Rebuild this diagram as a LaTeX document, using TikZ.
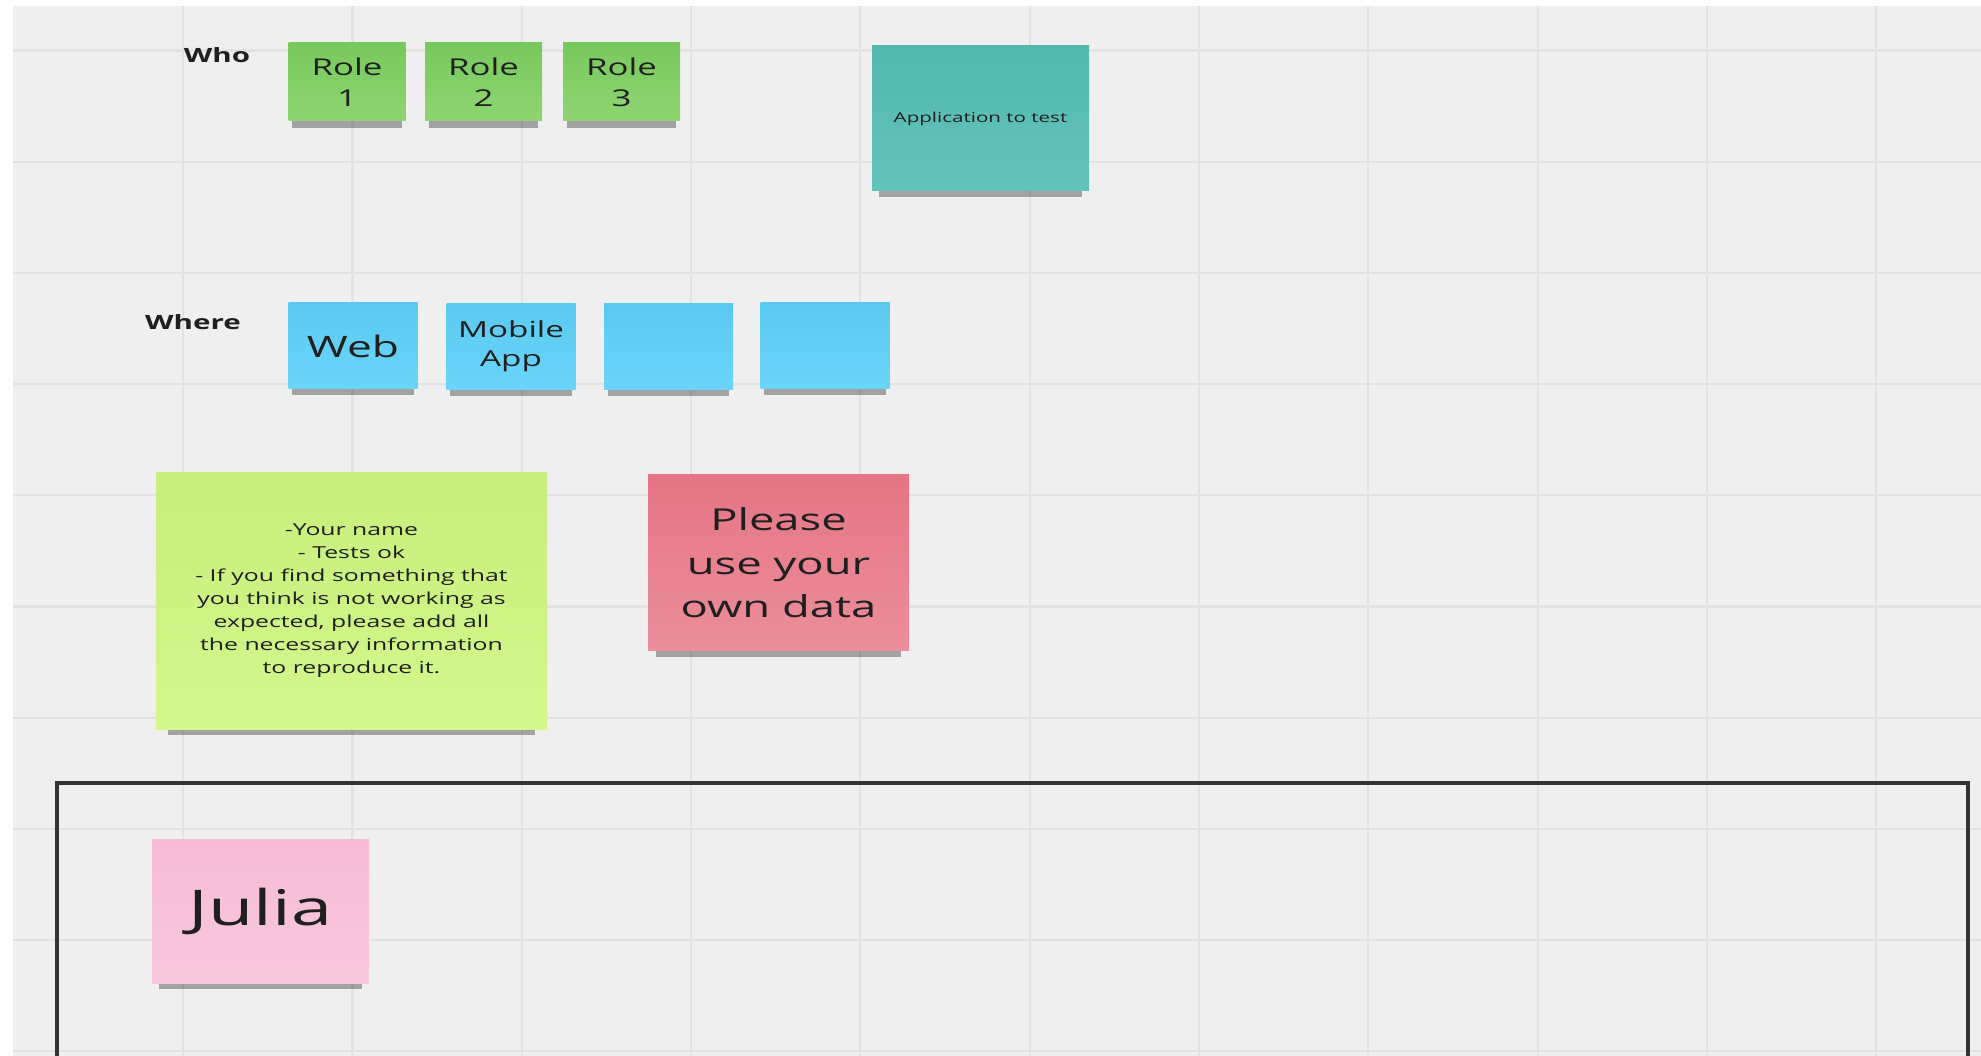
\documentclass[tikz,border=0pt]{standalone}
\usepackage{fontspec}
\setmainfont{Open Sans}[FakeStretch=1.5]
\usetikzlibrary{shadows}

\definecolor{boardbg}{HTML}{EFEFEF}
\definecolor{gridline}{HTML}{E2E2E2}
\definecolor{roletop}{HTML}{78C85D}
\definecolor{rolebot}{HTML}{8FD572}
\definecolor{appltop}{HTML}{54B9AF}
\definecolor{applbot}{HTML}{62C3B9}
\definecolor{wheretop}{HTML}{5AC9F0}
\definecolor{wherebot}{HTML}{6BD4F9}
\definecolor{infotop}{HTML}{C8EE7D}
\definecolor{infobot}{HTML}{D3F78B}
\definecolor{warntop}{HTML}{E57585}
\definecolor{warnbot}{HTML}{EC8E9B}
\definecolor{nametop}{HTML}{F6BAD5}
\definecolor{namebot}{HTML}{F8C9DE}

\begin{document}
\begin{tikzpicture}[x=0.1mm, y=-0.1mm,
    sticky/.style={inner sep=0pt, align=center, text=black!88,
      general shadow={fill=black, opacity=0.32, shadow scale=0.94, shadow yshift=#1}},
    sticky/.default=-2.7pt,
    rolenote/.style={sticky, top color=roletop, bottom color=rolebot,
      minimum width=11.7mm, minimum height=7.8mm, font=\fontsize{6.6}{8.8}\selectfont},
    wherenote/.style={sticky, top color=wheretop, bottom color=wherebot,
      minimum width=12.9mm, minimum height=8.6mm},
    rowlabel/.style={inner sep=0pt, font=\fontsize{5.6}{6.7}\selectfont\bfseries, text=black!88}]
  \useasboundingbox (0,0) rectangle (1981,1056);
  % Draw the board and its grid.
  \fill[white] (0,0) rectangle (1981,1056);
  \fill[boardbg] (13,6) rectangle (1981,1056);
  \foreach \gx in {0,...,10}
    \draw[gridline, line width=0.6pt] (183.2+169.3*\gx,6) -- (183.2+169.3*\gx,1056);
  \foreach \gy in {0,...,9}
    \draw[gridline, line width=0.6pt] (13,50.5+111.2*\gy) -- (1981,50.5+111.2*\gy);
  % Who row, and the application.
  \node[rowlabel] (who) at (217,55) {Who};
  \node[rolenote] (role1) at (347,82) {Role\\1};
  \node[rolenote] (role2) at (483.5,82) {Role\\2};
  \node[rolenote] (role3) at (621.5,82) {Role\\3};
  \node[sticky=-3.2pt, top color=appltop, bottom color=applbot, minimum width=21.7mm, minimum height=14.5mm,
    font=\fontsize{3.9}{5}\selectfont] (app) at (980.5,118.5) {Application to test};
  % Where row.
  \node[rowlabel] (where) at (193,322) {Where};
  \node[wherenote, font=\fontsize{8.4}{10}\selectfont] (web) at (353,346) {Web};
  \node[wherenote, font=\fontsize{6.3}{8.2}\selectfont] (mobile) at (511,346.5) {Mobile\\App};
  \node[wherenote] (where3) at (668.5,347) {};
  \node[wherenote] (where4) at (825,345.5) {};
  % Notes on how to report.
  \node[sticky=-4.2pt, top color=infotop, bottom color=infobot, minimum width=39.1mm, minimum height=25.6mm,
    font=\fontsize{4.7}{6.55}\selectfont] (info) at (351.5,601)
    {-Your name\\- Tests ok\\- If you find something that\\you think is not working as\\expected, please add all\\the necessary information\\to reproduce it.};
  \node[sticky=-3.5pt, top color=warntop, bottom color=warnbot, minimum width=26.1mm, minimum height=17.6mm,
    font=\fontsize{8.6}{12.4}\selectfont] (warn) at (778.5,563) {Please\\use your\\own data};
  % Frame of the tester lane.
  \coordinate (laneSW) at (57,1056);
  \coordinate (laneNW) at (57,783);
  \coordinate (laneNE) at (1968,783);
  \coordinate (laneSE) at (1968,1056);
  \draw[black!80, line width=1pt] (laneSW) -- (laneNW) -- (laneNE) -- (laneSE);
  \node[sticky=-3.2pt, top color=nametop, bottom color=namebot, minimum width=21.7mm, minimum height=14.4mm,
    font=\fontsize{14}{16}\selectfont] (julia) at (260.5,911) {Julia};
\end{tikzpicture}
\end{document}
